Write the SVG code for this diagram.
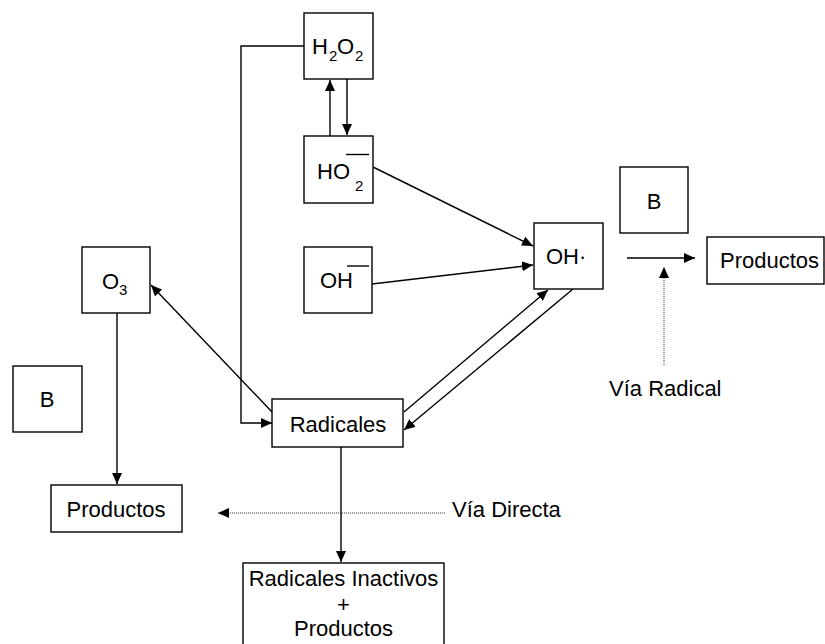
<svg xmlns="http://www.w3.org/2000/svg" width="825" height="644" viewBox="0 0 825 644">
<style>
.box{fill:#fff;stroke:#000;stroke-width:1.4}
.t{font-family:"Liberation Sans",Arial,sans-serif;font-size:22px;fill:#000}
.s{font-size:15px}
.ln{fill:none;stroke:#000;stroke-width:1.4}
.dot{fill:none;stroke:#333;stroke-width:1;stroke-dasharray:1,1}
</style>
<defs>
<marker id="ah" markerUnits="userSpaceOnUse" markerWidth="11" markerHeight="10" refX="11" refY="5" orient="auto">
<path d="M0,0 L11,5 L0,10 z" fill="#000"/>
</marker>
</defs>
<rect width="825" height="644" fill="#fff"/>
<g id="connectors">
<polyline class="ln" points="304,46 241,46 241,423 272,423" marker-end="url(#ah)"/>
<line class="ln" x1="330" y1="136" x2="330" y2="80" marker-end="url(#ah)"/>
<line class="ln" x1="347" y1="79" x2="347" y2="135" marker-end="url(#ah)"/>
<line class="ln" x1="373" y1="167" x2="533" y2="246" marker-end="url(#ah)"/>
<line class="ln" x1="372" y1="284" x2="533" y2="265" marker-end="url(#ah)"/>
<line class="ln" x1="404" y1="412" x2="548" y2="290" marker-end="url(#ah)"/>
<line class="ln" x1="573" y1="289" x2="404" y2="430" marker-end="url(#ah)"/>
<line class="ln" x1="272" y1="412" x2="151" y2="285" marker-end="url(#ah)"/>
<line class="ln" x1="117" y1="313" x2="117" y2="484" marker-end="url(#ah)"/>
<line class="ln" x1="341" y1="447" x2="341" y2="562" marker-end="url(#ah)"/>
<line class="ln" x1="627" y1="258" x2="695" y2="258" marker-end="url(#ah)"/>
<line class="dot" x1="664" y1="365" x2="664" y2="267" marker-end="url(#ah)"/>
<line class="dot" x1="445" y1="513" x2="218" y2="513" marker-end="url(#ah)"/>
</g>
<g id="h2o2">
<rect class="box" x="304" y="13" width="69" height="66"/>
<text class="t" x="312" y="54">H<tspan class="s" x="329" y="61">2</tspan><tspan x="337" y="54">O</tspan><tspan class="s" x="355" y="61">2</tspan></text>
</g>
<g id="ho2">
<rect class="box" x="304" y="136" width="69" height="67"/>
<text class="t" x="317" y="179">HO<tspan class="s" x="355" y="191">2</tspan></text>
<line class="ln" x1="346" y1="154.5" x2="369" y2="154.5"/>
</g>
<g id="ohminus">
<rect class="box" x="304" y="247" width="68" height="66"/>
<text class="t" x="320" y="288">OH</text>
<line class="ln" x1="347" y1="266" x2="369" y2="266"/>
</g>
<g id="ohrad">
<rect class="box" x="534" y="223" width="69" height="66"/>
<text class="t" x="546" y="264">OH·</text>
</g>
<g id="b-right">
<rect class="box" x="620" y="167" width="68" height="66"/>
<text class="t" x="654" y="209" text-anchor="middle">B</text>
</g>
<g id="productos-right">
<rect class="box" x="707" y="237" width="117" height="47"/>
<text class="t" x="720" y="268">Productos</text>
</g>
<g id="via-radical">
<text class="t" x="609" y="396">Vía Radical</text>
</g>
<g id="o3">
<rect class="box" x="82" y="247" width="68" height="66"/>
<text class="t" x="102" y="289">O<tspan class="s" x="119" y="295">3</tspan></text>
</g>
<g id="b-left">
<rect class="box" x="13" y="366" width="69" height="66"/>
<text class="t" x="47" y="407" text-anchor="middle">B</text>
</g>
<g id="productos-left">
<rect class="box" x="51" y="485" width="131" height="47"/>
<text class="t" x="116" y="517" text-anchor="middle">Productos</text>
</g>
<g id="radicales">
<rect class="box" x="272" y="399" width="131" height="48"/>
<text class="t" x="338" y="432" text-anchor="middle">Radicales</text>
</g>
<g id="via-directa">
<text class="t" x="452" y="517">Vía Directa</text>
</g>
<g id="inactivos">
<rect class="box" x="243" y="563" width="201" height="90"/>
<text class="t" x="343.5" y="586" text-anchor="middle">Radicales Inactivos</text>
<text class="t" x="343.5" y="612" text-anchor="middle">+</text>
<text class="t" x="343.5" y="636" text-anchor="middle">Productos</text>
</g>
</svg>
